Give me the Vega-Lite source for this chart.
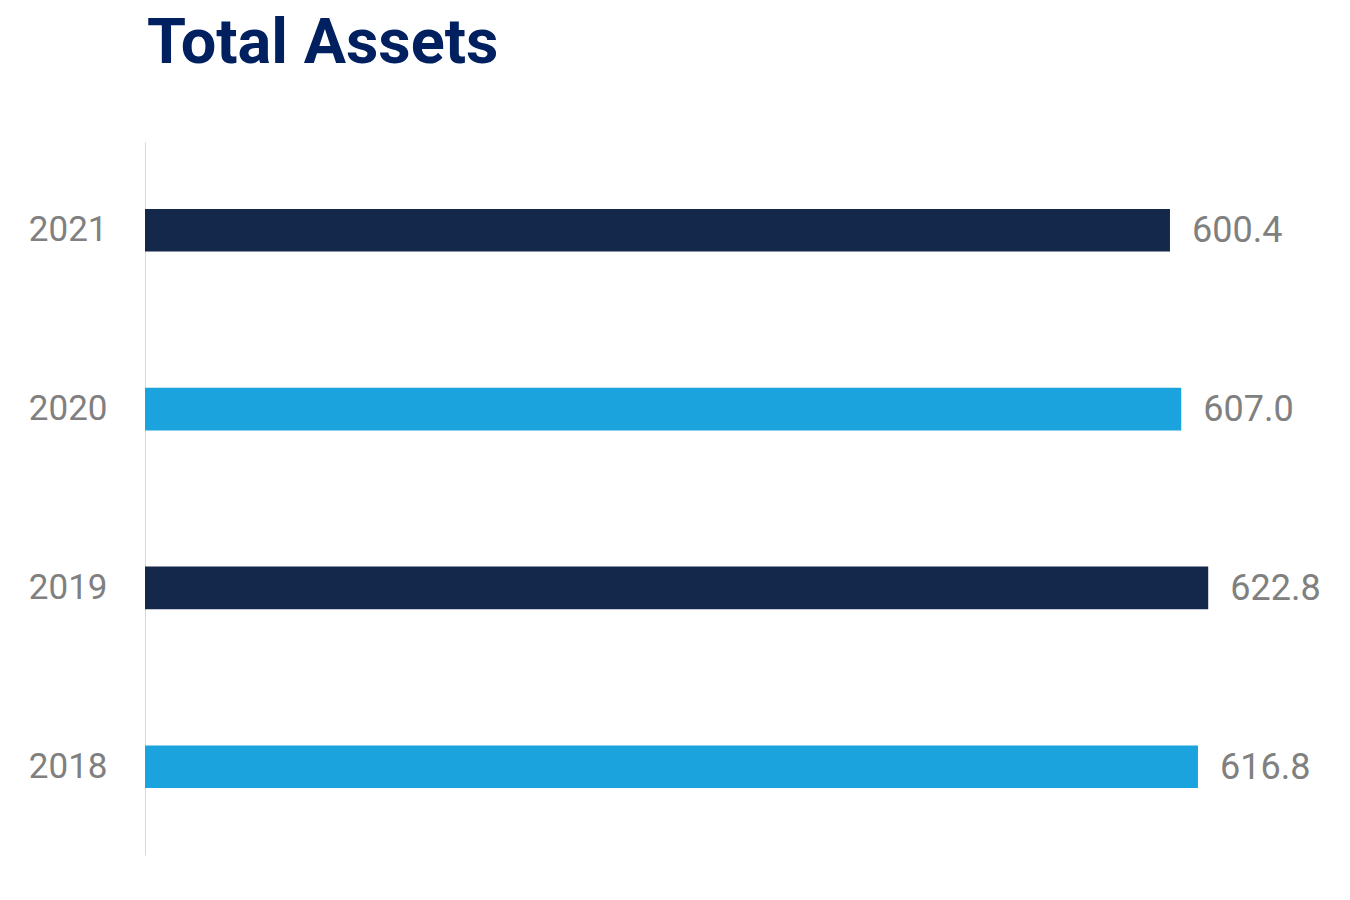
{
  "$schema": "https://vega.github.io/schema/vega-lite/v6.json",
  "autosize": "none",
  "width": 1195,
  "height": 713,
  "padding": {"left": 145, "top": 142, "right": 10, "bottom": 45},
  "background": "white",
  "config": {"view": {"stroke": null}, "font": "Roboto"},
  "title": {
    "text": "Total Assets",
    "anchor": "start",
    "frame": "group",
    "font": "Roboto",
    "fontSize": 63,
    "fontWeight": "bold",
    "color": "#002060",
    "offset": 66,
    "dx": 2
  },
  "data": {
    "values": [
      {"year": "2021", "assets": 600.4},
      {"year": "2020", "assets": 607.0},
      {"year": "2019", "assets": 622.8},
      {"year": "2018", "assets": 616.8}
    ]
  },
  "encoding": {
    "y": {
      "field": "year",
      "type": "ordinal",
      "sort": "descending",
      "scale": {"paddingInner": 0.762, "paddingOuter": 0.375},
      "axis": {
        "title": null,
        "ticks": false,
        "domainColor": "#d9d9d9",
        "domainWidth": 1,
        "labelFontSize": 35,
        "labelColor": "#808080",
        "labelPadding": 38,
        "labelFont": "Roboto"
      }
    },
    "x": {
      "field": "assets",
      "type": "quantitative",
      "scale": {"domain": [0, 700], "nice": false},
      "axis": null
    }
  },
  "layer": [
    {
      "mark": {"type": "bar"},
      "encoding": {
        "color": {
          "field": "year",
          "type": "nominal",
          "scale": {"domain": ["2021", "2020", "2019", "2018"], "range": ["#14284B", "#1AA3DC", "#14284B", "#1AA3DC"]},
          "legend": null
        }
      }
    },
    {
      "mark": {"type": "text", "align": "left", "baseline": "middle", "dx": 22, "dy": 1, "fontSize": 36, "color": "#808080", "font": "Roboto"},
      "encoding": {
        "text": {"field": "assets", "type": "quantitative", "format": ".1f"}
      }
    }
  ]
}
